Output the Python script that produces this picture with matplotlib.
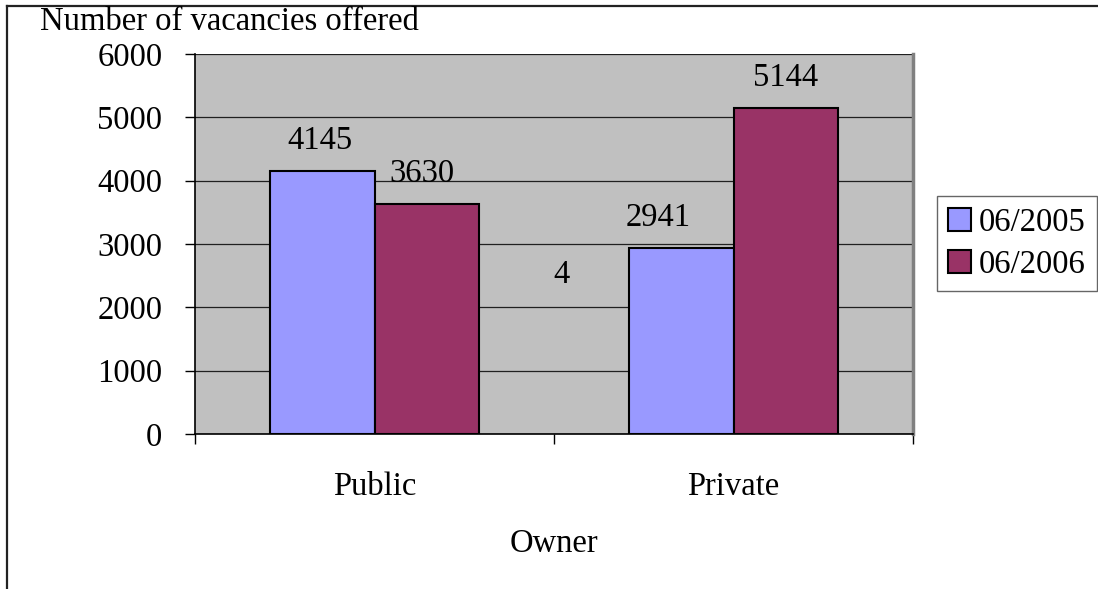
import matplotlib

matplotlib.use("Agg")
import matplotlib.pyplot as plt
import numpy as np
from matplotlib.lines import Line2D
from matplotlib.patches import Patch

OWNERS = ["Public", "Private"]
SERIES_LABELS = ["06/2005", "06/2006"]
VACANCIES_2005 = [4145, 2941]
VACANCIES_2006 = [3630, 5144]
Y_TICKS = [0, 1000, 2000, 3000, 4000, 5000, 6000]

COLORS = ["#9999FF", "#993366"]

plt.rcParams["font.family"] = ["Liberation Serif", "DejaVu Serif"]
FS = 23.5

fig = plt.figure(figsize=(10.98, 5.89), dpi=100)
W, H = 1098, 589

# outer chart frame (left and top edges only visible)
fig.add_artist(Line2D([7 / W, 7 / W], [0, 1 - 6 / H], transform=fig.transFigure, color="#222222", lw=1.6))
fig.add_artist(Line2D([7 / W, 1], [1 - 6 / H, 1 - 6 / H], transform=fig.transFigure, color="#222222", lw=1.6))

ax = fig.add_axes([195 / W, 1 - 434 / H, (913 - 195) / W, (434 - 54) / H])
ax.set_facecolor("#C0C0C0")

x = np.arange(len(OWNERS))
width = 0.29
bars1 = ax.bar(x - width / 2, VACANCIES_2005, width, color=COLORS[0], edgecolor="black", linewidth=1.5, zorder=3)
bars2 = ax.bar(x + width / 2, VACANCIES_2006, width, color=COLORS[1], edgecolor="black", linewidth=1.5, zorder=3)

# value labels sit slightly off-centre, as the spreadsheet placed them
label_shift = [[-0.008, -0.014], [-0.064, 0.0]]
for i, (b1, b2) in enumerate(zip(bars1, bars2)):
    for j, b in enumerate((b1, b2)):
        h = b.get_height()
        ax.annotate(f"{h:.0f}", (b.get_x() + b.get_width() / 2 + label_shift[i][j], h),
                    xytext=(0, 16), textcoords="offset points", ha="center", va="baseline",
                    fontsize=FS, zorder=4)

# stray data label between the groups
ax.text(0.52, 2510, "4", ha="center", va="center", fontsize=FS, zorder=4)

ax.set_xlim(-0.5, 1.5)
ax.set_ylim(0, 6000)
ax.set_yticks(Y_TICKS)
ax.set_yticklabels([str(t) for t in Y_TICKS])
ax.yaxis.grid(True, color="#202020", linewidth=0.9, zorder=1)
ax.set_axisbelow(True)

ax.set_xticks(x)
ax.set_xticklabels(OWNERS)
ax.set_xticks([-0.5, 0.5, 1.5], minor=True)
ax.tick_params(axis="x", which="major", length=0, pad=27, labelsize=FS)
ax.tick_params(axis="x", which="minor", length=7, width=1, direction="out")
ax.tick_params(axis="y", length=7, width=1, direction="out", pad=16.5, labelsize=FS)
ax.set_xlabel("Owner", fontsize=FS, labelpad=19)

for side in ("left", "bottom"):
    ax.spines[side].set_color("black")
    ax.spines[side].set_linewidth(1.2)
ax.spines["top"].set_visible(False)
ax.spines["right"].set_color("#808080")
ax.spines["right"].set_linewidth(2.5)

fig.text(40 / W, 1 - 22 / H, "Number of vacancies offered", fontsize=FS, ha="left", va="center")

handles = [Patch(facecolor=c, edgecolor="black", linewidth=1.5) for c in COLORS]
leg = fig.legend(handles, SERIES_LABELS, loc="upper left", bbox_to_anchor=(937 / W, 1 - 196 / H),
                 fontsize=FS, frameon=True, fancybox=False, handlelength=0.68, handleheight=0.68,
                 handletextpad=0.25, borderpad=0.35, labelspacing=0.35, borderaxespad=0)
leg.get_frame().set_edgecolor("#404040")
leg.get_frame().set_linewidth(1.0)

fig.savefig("out.png", dpi=100)
